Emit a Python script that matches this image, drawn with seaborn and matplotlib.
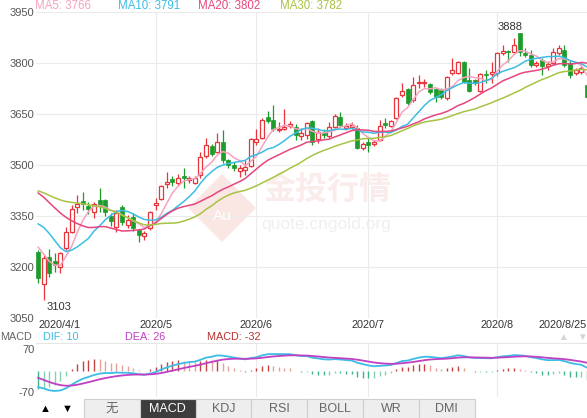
import numpy as np
import pandas as pd
import seaborn as sns
import matplotlib.pyplot as plt
from matplotlib.patches import Polygon, Rectangle

W, H = 587, 418

# late-March closes, only used to warm up the MA / MACD lines
pre_closes = [3400, 3410, 3420, 3430, 3440, 3445, 3450, 3445, 3455, 3465,
              3480, 3500, 3520, 3540, 3560, 3570, 3550, 3520, 3470, 3380,
              3330, 3360, 3420, 3450, 3415,
              3330, 3290, 3262, 3245]

# daily candles 2020/4/1 .. 2020/8/25
opens = [3244, 3150, 3229, 3218, 3200, 3256, 3303, 3376, 3394, 3379,
         3362, 3397, 3397, 3350, 3318, 3376, 3324, 3347, 3309, 3291,
         3315, 3382, 3400, 3444, 3459, 3447, 3468, 3456, 3447, 3471,
         3526, 3556, 3538, 3568, 3515, 3500, 3482, 3485, 3497, 3568,
         3579, 3641, 3632, 3603, 3606, 3615, 3612, 3585, 3588, 3629,
         3577, 3594, 3585, 3612, 3641, 3609, 3612, 3609, 3550, 3568,
         3562, 3574, 3624, 3615, 3638, 3706, 3724, 3691, 3741, 3741,
         3738, 3724, 3721, 3697, 3771, 3771, 3803, 3750, 3750, 3718,
         3768, 3768, 3771, 3829, 3835, 3832, 3888, 3829, 3824, 3794,
         3809, 3791, 3800, 3829, 3838, 3800, 3771, 3774, 3735]
closes = [3168, 3227, 3182, 3206, 3241, 3303, 3371, 3385, 3385, 3371,
          3385, 3379, 3362, 3335, 3359, 3332, 3338, 3315, 3294, 3300,
          3362, 3388, 3438, 3450, 3450, 3462, 3462, 3462, 3462, 3524,
          3559, 3532, 3568, 3515, 3500, 3491, 3491, 3494, 3577, 3577,
          3632, 3629, 3606, 3606, 3612, 3621, 3588, 3594, 3624, 3568,
          3597, 3588, 3612, 3644, 3618, 3615, 3618, 3550, 3562, 3559,
          3568, 3615, 3618, 3629, 3697, 3718, 3682, 3735, 3744, 3744,
          3715, 3700, 3700, 3759, 3779, 3803, 3744, 3718, 3741, 3768,
          3765, 3774, 3829, 3835, 3832, 3853, 3832, 3824, 3794, 3800,
          3791, 3797, 3832, 3844, 3794, 3765, 3779, 3785, 3700]
highs = [3250, 3235, 3253, 3241, 3245, 3318, 3382, 3412, 3421, 3391,
         3391, 3432, 3400, 3359, 3368, 3382, 3353, 3359, 3312, 3306,
         3365, 3403, 3441, 3479, 3468, 3474, 3491, 3468, 3468, 3538,
         3579, 3562, 3594, 3603, 3518, 3509, 3500, 3515, 3579, 3606,
         3638, 3659, 3677, 3627, 3665, 3629, 3621, 3609, 3627, 3632,
         3609, 3606, 3627, 3650, 3656, 3624, 3627, 3618, 3568, 3579,
         3574, 3632, 3638, 3632, 3700, 3741, 3727, 3759, 3765, 3753,
         3741, 3727, 3727, 3762, 3815, 3806, 3806, 3785, 3753, 3771,
         3779, 3803, 3832, 3853, 3838, 3874, 3888, 3844, 3838, 3806,
         3815, 3806, 3844, 3853, 3853, 3806, 3785, 3797, 3741]
lows = [3153, 3103, 3171, 3185, 3182, 3250, 3300, 3359, 3368, 3356,
        3344, 3362, 3350, 3321, 3303, 3324, 3315, 3306, 3274, 3280,
        3309, 3368, 3397, 3432, 3438, 3438, 3432, 3447, 3444, 3462,
        3521, 3526, 3535, 3506, 3491, 3482, 3465, 3471, 3494, 3559,
        3577, 3624, 3600, 3597, 3603, 3609, 3574, 3574, 3577, 3559,
        3565, 3580, 3580, 3609, 3612, 3603, 3606, 3547, 3544, 3538,
        3556, 3571, 3609, 3612, 3635, 3700, 3677, 3685, 3727, 3730,
        3709, 3685, 3694, 3691, 3765, 3768, 3741, 3715, 3735, 3715,
        3741, 3741, 3762, 3824, 3803, 3829, 3821, 3818, 3788, 3788,
        3765, 3779, 3794, 3824, 3788, 3756, 3765, 3768, 3694]

tick_pos = [0, 21, 39, 59, 82, 98]
tick_labels = ['2020/4/1', '2020/5', '2020/6', '2020/7', '2020/8', '2020/8/25']
price_ticks = [3050, 3200, 3350, 3500, 3650, 3800, 3950]

ma_periods = [5, 10, 20, 30]
ma_colors = ['#f5a3bf', '#3bbde5', '#e5467f', '#a6c443']
ma_texts = ['MA5: 3766', 'MA10: 3791', 'MA20: 3802', 'MA30: 3782']
ma_text_x = [35, 118, 198, 280]

macd_texts = ['MACD', 'DIF: 10', 'DEA: 26', 'MACD: -32']
macd_text_colors = ['#666666', '#3bbde5', '#c13fc4', '#b8312f']
macd_text_x = [0, 43, 125, 207]

tabs = ['无', 'MACD', 'KDJ', 'RSI', 'BOLL', 'WR', 'DMI']

RED, GREEN = '#e8353b', '#1b9c2b'
GRID = '#ebebeb'

sns.set_theme(style='white')
plt.rcParams['font.family'] = ['Liberation Sans', 'Noto Sans CJK SC', 'DejaVu Sans']
plt.rcParams['axes.unicode_minus'] = False


def fx(px):
    return px / W


def fy(py):
    return 1 - py / H


fig = plt.figure(figsize=(W / 100, H / 100), dpi=100)
fig.patch.set_facecolor('white')

# ---- price panel ----
ax = fig.add_axes([fx(36), fy(318), fx(587) - fx(36), fy(12) - fy(318)])
idx = np.arange(len(closes))
o, c, h, l = map(np.array, (opens, closes, highs, lows))
up = c >= o

ax.vlines(idx, l, h, colors=np.where(up, RED, GREEN), lw=0.9, zorder=3)
body_lo = np.minimum(o, c)
body_h = np.maximum(np.abs(c - o), 2)
ax.bar(idx[up], body_h[up], bottom=body_lo[up], width=0.7,
       color='white', edgecolor=RED, linewidth=0.9, zorder=4)
ax.bar(idx[~up], body_h[~up], bottom=body_lo[~up], width=0.7,
       color=GREEN, edgecolor=GREEN, linewidth=0.5, zorder=4)

full = pd.Series(pre_closes + closes, dtype=float)
n_pre = len(pre_closes)
for n, col in zip(ma_periods, ma_colors):
    ma = full.rolling(n).mean().iloc[n_pre:].to_numpy()
    sns.lineplot(x=idx, y=ma, ax=ax, color=col, lw=1.1, zorder=5)

ax.set_xlim(-0.36, 98.04)
ax.set_ylim(3050, 3950)
ax.set_yticks(price_ticks)
ax.set_xticks(tick_pos)
ax.set_xticklabels(tick_labels)
xl = ax.get_xticklabels()
xl[0].set_ha('left')
xl[-1].set_ha('right')
ax.tick_params(axis='y', length=0, pad=1, labelsize=8, labelcolor='#555555')
ax.tick_params(axis='x', length=0, pad=1.5, labelsize=7.8, labelcolor='#333333')
ax.grid(axis='y', color=GRID, lw=0.8)
for p in tick_pos[1:5]:
    ax.axvline(p, color=GRID, lw=0.8, zorder=0)
ax.set_axisbelow(True)
for s in ax.spines.values():
    s.set_visible(False)

# high / low marks
ax.text(86.6, 3890, '3888', ha='right', va='bottom', fontsize=8, color='#333333')
ax.text(1.6, 3097, '3103', ha='left', va='top', fontsize=8, color='#333333')

# watermark
ax.add_patch(Polygon([[fx(222), fy(174)], [fx(256), fy(208)], [fx(222), fy(242)], [fx(188), fy(208)]],
                     closed=True, transform=fig.transFigure, fc='#fae6e3', ec='none', zorder=0.5))
ax.text(fx(222), fy(216), 'Au', transform=fig.transFigure, ha='center', va='center',
        fontsize=11, color='white', zorder=0.6)
ax.text(fx(327), fy(190), '金投行情', transform=fig.transFigure, ha='center', va='center',
        fontsize=23, fontweight='bold', color='#faecea', zorder=0.5)
ax.text(fx(326), fy(225), 'quote.cngold.org', transform=fig.transFigure, ha='center', va='center',
        fontsize=12.5, color='#efefef', zorder=0.5)

for t, x, col in zip(ma_texts, ma_text_x, ma_colors):
    fig.text(fx(x), fy(6), t, ha='left', va='center', fontsize=8.3, color=col)

# ---- MACD panel ----
mx = fig.add_axes([fx(36), fy(397), fx(587) - fx(36), fy(343) - fy(397)])
ema12 = full.ewm(span=12, adjust=False).mean()
ema26 = full.ewm(span=26, adjust=False).mean()
dif_full = ema12 - ema26
dea_full = dif_full.ewm(span=9, adjust=False).mean()
hist_full = 2 * (dif_full - dea_full)
dif = dif_full.iloc[n_pre:].to_numpy()
dea = dea_full.iloc[n_pre:].to_numpy()
hist = hist_full.iloc[n_pre:].to_numpy()
prev = hist_full.iloc[n_pre - 1:-1].to_numpy()

bar_cols = np.where(hist >= 0,
                    np.where(hist >= prev, '#c2423d', '#e6a095'),
                    np.where(hist <= prev, '#3fb487', '#86d1b0'))
mx.vlines(idx, 0, hist, colors=bar_cols, lw=1.0, zorder=2)
sns.lineplot(x=idx, y=dif, ax=mx, color='#3bbde5', lw=1.3, zorder=3)
sns.lineplot(x=idx, y=dea, ax=mx, color='#c13fc4', lw=1.3, zorder=3)

mx.set_xlim(-0.36, 98.04)
mx.set_ylim(-86, 91)
mx.set_yticks([-70, 70])
mx.set_xticks([])
mx.tick_params(axis='y', length=0, pad=1, labelsize=8, labelcolor='#555555')
for p in tick_pos[1:5]:
    mx.axvline(p, color=GRID, lw=0.8, zorder=0)
for s in mx.spines.values():
    s.set_visible(False)
mx.spines['top'].set_visible(True)
mx.spines['top'].set_color('#e6e6e6')
mx.spines['top'].set_linewidth(0.8)

for t, x, col in zip(macd_texts, macd_text_x, macd_text_colors):
    fig.text(fx(x), fy(337.5), t, ha='left', va='center', fontsize=7.8, color=col)
fig.text(fx(563), fy(337), '▲', ha='center', va='center', fontsize=7, color='#d5d5d5')
fig.text(fx(582), fy(337), '▼', ha='center', va='center', fontsize=7, color='#d5d5d5')

# ---- indicator buttons ----
bx = fig.add_axes([0, 0, 1, 20 / H])
bx.set_xlim(0, W)
bx.set_ylim(20, 0)
bx.axis('off')
bx.text(45, 10.5, '▲', ha='center', va='center', fontsize=8, color='black')
bx.text(67, 10.5, '▼', ha='center', va='center', fontsize=8, color='black')
for k, name in enumerate(tabs):
    x0 = 84 + k * 55.8
    active = name == 'MACD'
    bx.add_patch(Rectangle((x0, 0.5), 55.8, 20, fc='#3d3d3d' if active else '#eeeeee',
                           ec='#cfcfcf', lw=0.8))
    bx.text(x0 + 27.9, 11, name, ha='center', va='center', fontsize=9,
            color='white' if active else '#666666')

fig.savefig('out.png', dpi=100, facecolor='white')
